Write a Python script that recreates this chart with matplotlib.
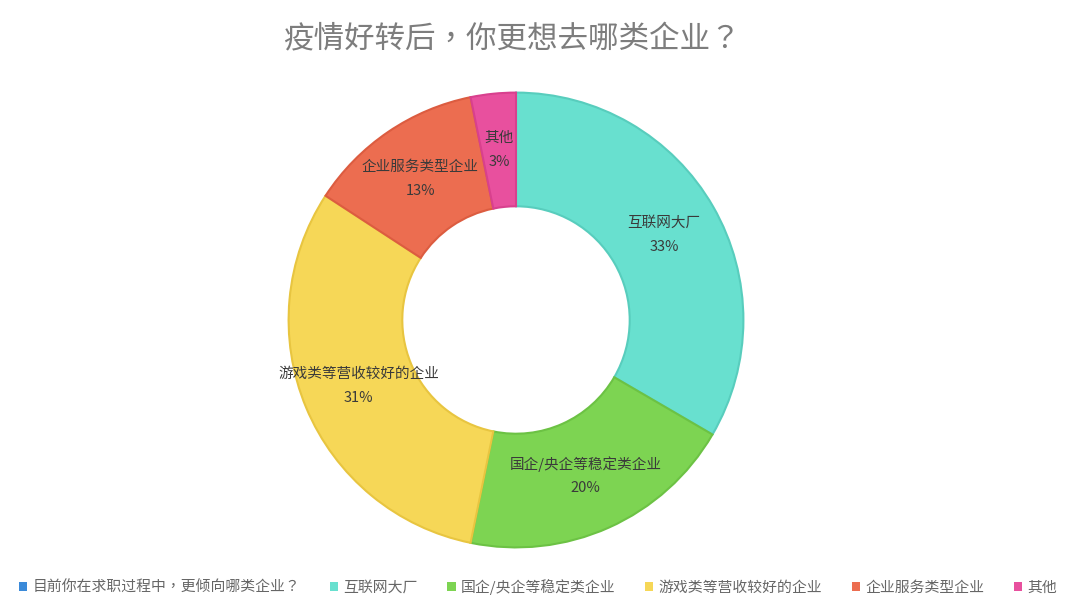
import numpy as np
import matplotlib
matplotlib.use('Agg')
import matplotlib.pyplot as plt
from matplotlib.patches import Patch

# TC face centres the full-width comma and question mark like the original
plt.rcParams['font.family'] = ['Noto Sans CJK TC', 'DejaVu Sans']

TITLE = '疫情好转后，你更想去哪类企业？'
SERIES_NAME = '目前你在求职过程中，更倾向哪类企业？'
categories = ['互联网大厂', '国企/央企等稳定类企业', '游戏类等营收较好的企业',
              '企业服务类型企业', '其他']
shares = [33.4, 19.8, 31.0, 12.6, 3.2]

colors = ['#68e0cf', '#7dd452', '#f6d757', '#ec6d50', '#e8509e']
edges = ['#58cdbd', '#6cc244', '#e8c540', '#dc5c40', '#d8408e']
series_color = '#3b8ad9'


def main():
    fig = plt.figure(figsize=(10.8, 6.12), dpi=100)

    # axes sized so that radius 1 is ~227 px, centred on the donut
    cx, cy, r = 516, 612 - 320, 227.4
    ax = fig.add_axes([(cx - r) / 1080, (cy - r) / 612, 2 * r / 1080, 2 * r / 612])

    wedges, _ = ax.pie(shares, colors=colors, startangle=90, counterclock=False,
                       radius=1.0,
                       wedgeprops=dict(width=0.5, linewidth=1.5))
    for w, ec in zip(wedges, edges):
        w.set_edgecolor(ec)

    # labels in the middle of the ring
    for w, name, val in zip(wedges, categories, shares):
        mid = np.radians((w.theta1 + w.theta2) / 2)
        x, y = 0.75 * np.cos(mid), 0.75 * np.sin(mid)
        ax.text(x, y, f'{name}\n{val:.0f}%', ha='center', va='center',
                fontsize=10.5, color='#3a3a3a', linespacing=1.9)

    ax.set_xlim(-1, 1)
    ax.set_ylim(-1, 1)
    ax.axis('off')

    fig.text(512 / 1080, 1 - 40 / 612, TITLE, ha='center', va='center',
             fontsize=22, color='#7d7d7d')

    handles = [Patch(facecolor=series_color)]
    handles += [Patch(facecolor=c) for c in colors]
    labels = [SERIES_NAME] + categories
    fig.legend(handles, labels, loc='center', bbox_to_anchor=(538 / 1080, 1 - 587 / 612),
               ncol=6, frameon=False, fontsize=10.7, labelcolor='#666666',
               handlelength=0.55, handleheight=0.55, handletextpad=0.35,
               columnspacing=2.0, borderaxespad=0)

    fig.savefig('out.png', dpi=100, facecolor='white')


main()
